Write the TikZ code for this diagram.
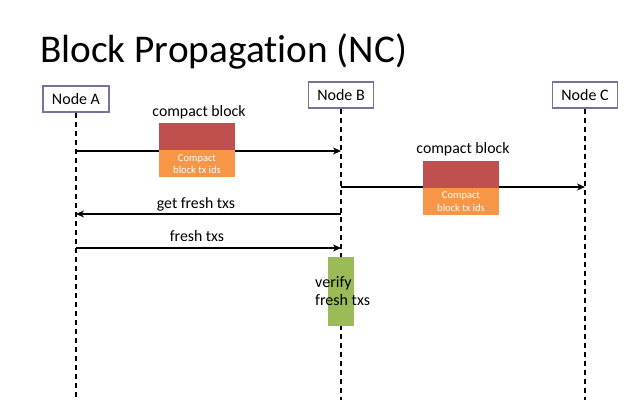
\documentclass[tikz,border=0pt]{standalone}
\usepackage{fontspec}
\setmainfont[Ligatures={NoCommon}]{Carlito}
\usetikzlibrary{arrows.meta}
\definecolor{boxline}{HTML}{7E6E9E}
\definecolor{blkred}{HTML}{C0504D}
\definecolor{blkorange}{HTML}{F79646}
\definecolor{vgreen}{HTML}{9BBB59}
\begin{document}
\begin{tikzpicture}[x=1pt,y=-1pt,
  header/.style={draw=boxline, line width=1.1pt, fill=white, inner sep=0pt,
    minimum height=26pt, font=\fontsize{16}{19}\selectfont},
  lifeline/.style={line width=1.2pt, dash pattern=on 5pt off 4pt},
  msg/.style={line width=1.1pt, -{Stealth[length=8pt,width=7pt,inset=2.5pt]}},
  msglabel/.style={font=\fontsize{15.8}{18}\selectfont, inner sep=0pt},
  redpart/.style={fill=blkred, draw=none, minimum width=76pt, minimum height=27pt, inner sep=0pt},
  orangepart/.style={fill=blkorange, draw=none, minimum width=76pt, minimum height=27pt, inner sep=0pt,
    text=white, align=center, font=\fontsize{10.5}{12.5}\selectfont},
  verifybox/.style={fill=vgreen, draw=none, minimum width=26pt, minimum height=69pt, inner sep=0pt}
]
\useasboundingbox (0,0) rectangle (640,400);
\fill[white] (0,0) rectangle (640,400);

% title
\node[anchor=base west, inner sep=0pt, font=\fontsize{39.3}{44}\selectfont] (title) at (40,62) {Block Propagation (NC)};

% headers
\node[header, minimum width=66pt] (hA) at (76,99) {Node A};
\node[header, minimum width=65pt] (hB) at (341,95) {Node B};
\node[header, minimum width=65pt] (hC) at (585,95) {Node C};

% lifeline ends
\coordinate (endA) at (76,400);
\coordinate (endB) at (341,400);
\coordinate (endC) at (585,400);
\draw[lifeline] (hA.south) -- (endA);
\draw[lifeline] (hB.south) -- (endB);
\draw[lifeline] (hC.south) -- (endC);

% message end points
\coordinate (a1) at (76,151);  \coordinate (b1) at (341,151);
\coordinate (b2) at (341,187); \coordinate (c2) at (585,187);
\coordinate (b3) at (341,214); \coordinate (a3) at (76,214);
\coordinate (a4) at (76,248);  \coordinate (b4) at (341,248);

\draw[msg] (a1) -- (b1);
\draw[msg] (b2) -- (c2);
\draw[msg] (b3) -- (a3);
\draw[msg] (a4) -- (b4);

% compact block 1
\node[redpart] (cb1) at (197,136.5) {};
\node[orangepart, anchor=north] (ids1) at (cb1.south) {Compact\\block tx ids};
\node[msglabel] (lab1) at (199,112) {compact block};

% compact block 2
\node[redpart] (cb2) at (461,174) {};
\node[orangepart, anchor=north] (ids2) at (cb2.south) {Compact\\block tx ids};
\node[msglabel] (lab2) at (463,149) {compact block};

% message labels
\node[msglabel] (lab3) at (196,204) {get fresh txs};
\node[msglabel] (lab4) at (197,236) {fresh txs};

% verify
\node[verifybox] (ver) at (341,291.5) {};
\node[anchor=west, align=left, inner sep=0pt, font=\fontsize{16}{18.5}\selectfont] (vertext) at (315,291) {verify\\fresh txs};
\end{tikzpicture}
\end{document}
